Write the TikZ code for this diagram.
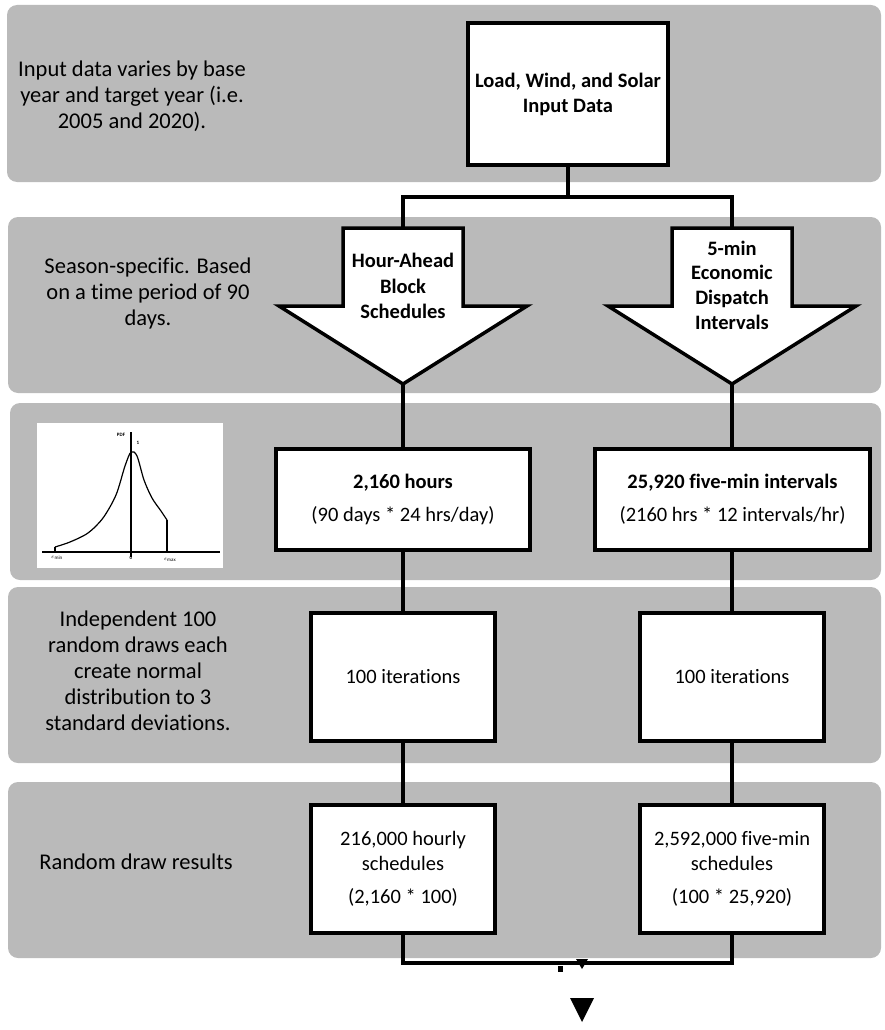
\documentclass[tikz,border=0pt]{standalone}
\usepackage{fontspec}
\setmainfont{Carlito}[Ligatures=NoCommon]
\definecolor{bandgray}{RGB}{186,186,186}

\begin{document}
\begin{tikzpicture}[x=1pt,y=-1pt]

	\tikzset{
		band/.style={
			fill=bandgray,
			rounded corners=10pt
		},
		block/.style={
			draw,
			line width=3.5pt,
			fill=white,
			align=center,
			inner sep=4pt,
			font=\fontsize{20.5}{25}\selectfont
		},
		boldblock/.style={
			block,
			font=\bfseries\fontsize{20.5}{25}\selectfont
		},
		remark/.style={
			align=center,
			font=\fontsize{22.5}{26}\selectfont
		},
		flowarrow/.style={
			draw,
			line width=3.5pt,
			fill=white
		},
		link/.style={
			line width=3.5pt
		},
		tinylabel/.style={
			inner sep=0pt,
			font=\bfseries\fontsize{5}{5}\selectfont
		}
	}

	\useasboundingbox (0,0) rectangle (884,1030);

	% BANDS
	\fill[band] (7,5) rectangle (881,182);
	\fill[band] (8,217) rectangle (881,393);
	\fill[band] (10,403) rectangle (881,580);
	\fill[band] (8,587) rectangle (881,763);
	\fill[band] (8,782) rectangle (881,958);

	% NOTES
	\node[remark] (note1) at (132,96) {Input data varies by base\\year and target year (i.e.\\2005 and 2020).};
	\node[remark] (note2) at (148,293) {Season-specific. Based\\on a time period of 90\\days.};
	\node[remark] (note4) at (138,671) {Independent 100\\random draws each\\create normal\\distribution to 3\\standard deviations.};
	\node[remark] (note5) at (136,862) {Random draw results};

	% PDF INSET
	\fill[white] (37,423) rectangle (223,568);
	\draw[line width=1.2pt] (42,552) -- (220,552);
	\draw[line width=1.6pt] (131,432) -- (131,557);
	\draw[line width=1.2pt] (55,552) -- (55,547);
	\draw[line width=1.2pt] plot[smooth] coordinates {(55,547) (70,542) (88,533) (103,518) (116,495) (125,466) (131,452) (137,456) (144,480) (152,498) (161,511) (167,520)};
	\draw[line width=1.2pt] (167,520) -- (167,552);
	\node[tinylabel] at (121,435) {PDF};
	\node[tinylabel] at (138,443) {1};
	\node[tinylabel] at (131,558) {0};
	\node[tinylabel] at (57,558) {$\varepsilon_{\min}$};
	\node[tinylabel] at (170,560) {$\varepsilon_{\max}$};

	% INPUT DATA
	\node[boldblock, minimum width=200pt, minimum height=142pt] (input) at (568,94) {Load, Wind, and Solar\\Input Data};

	% SPLIT ARROWS
	\draw[flowarrow] (343,228) -- (463,228) -- (463,306) -- (527,306) -- (403,384) -- (279,306) -- (343,306) -- cycle;
	\draw[flowarrow] (672,228) -- (792,228) -- (792,306) -- (856,306) -- (732,384) -- (608,306) -- (672,306) -- cycle;
	\node[remark, font=\bfseries\fontsize{20.5}{25.5}\selectfont] (hatext) at (403,286) {Hour-Ahead\\Block\\Schedules};
	\node[remark, font=\bfseries\fontsize{20.5}{24.7}\selectfont] (edtext) at (732,285) {5-min\\Economic\\Dispatch\\Intervals};
	\coordinate (hatop) at (403,228);
	\coordinate (hatip) at (403,384);
	\coordinate (edtop) at (732,228);
	\coordinate (edtip) at (732,384);
	\coordinate (split) at (568,197);

	% PERIOD BOXES
	\node[block, minimum width=254pt, minimum height=101pt] (hhours) at (403,499.5) {\textbf{2,160 hours}\\[8pt](90 days * 24 hrs/day)};
	\node[block, minimum width=275pt, minimum height=101pt] (fmins) at (732.5,499.5) {\textbf{25,920 five-min intervals}\\[8pt](2160 hrs * 12 intervals/hr)};

	% ITERATION BOXES
	\node[block, minimum width=184pt, minimum height=128pt] (hiter) at (403,677) {100 iterations};
	\node[block, minimum width=184pt, minimum height=128pt] (fiter) at (732,677) {100 iterations};

	% RESULT BOXES
	\node[block, minimum width=184pt, minimum height=128pt] (hsched) at (403,869) {216,000 hourly\\schedules\\[8pt](2,160 * 100)};
	\node[block, minimum width=184pt, minimum height=128pt] (fsched) at (732,869) {2,592,000 five-min\\schedules\\[8pt](100 * 25,920)};

	% CONNECTORS
	\draw[link] (input.south) -- (split);
	\draw[link] (hatop) |- (split) -| (edtop);
	\draw[link] (hatip) -- (hhours);
	\draw[link] (edtip) -- (fmins.north -| edtip);
	\draw[link] (hhours) -- (hiter);
	\draw[link] (fmins.south -| fiter) -- (fiter);
	\draw[link] (hiter) -- (hsched);
	\draw[link] (fiter) -- (fsched);
	\draw[link] (hsched.south) -- ++(0,28) -| (fsched.south);

	% OUTPUT MARKS
	\fill (576,959) -- (588,959) -- (582,969) -- cycle;
	\fill (558,966) rectangle (563,972);
	\fill (570,998) -- (594,998) -- (582,1022) -- cycle;

\end{tikzpicture}
\end{document}
